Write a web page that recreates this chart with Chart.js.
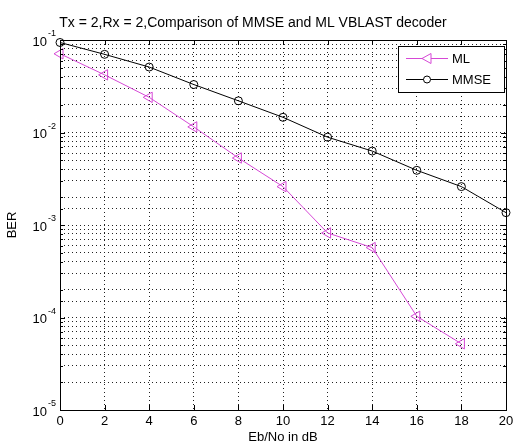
<!DOCTYPE html>
<html>
<head>
<meta charset="utf-8">
<script src="https://cdn.jsdelivr.net/npm/chart.js@4/dist/chart.umd.min.js"></script>
<style>
  html, body { margin: 0; padding: 0; background: #fff; }
  #wrap { width: 513px; height: 446px; }
</style>
</head>
<body>
<div id="wrap"><canvas id="c" width="513" height="446"></canvas></div>
<script>
// Eb/No points (dB)
const ebno = [0, 2, 4, 6, 8, 10, 12, 14, 16, 18, 20];
// BER
const berML = [0.071, 0.042, 0.024, 0.0115, 0.0053, 0.0026, 0.00082, 0.00057, 0.000103, 0.000052];
const berMMSE = [0.094, 0.070, 0.051, 0.033, 0.022, 0.0146, 0.0089, 0.0063, 0.0039, 0.0026, 0.00136];
const yTickPowers = [-1, -2, -3, -4, -5];

const FONT = 'Liberation Sans, Arial, sans-serif';
const ML_COLOR = 'rgb(214, 72, 214)';

function toPoints(ys) {
  return ys.map((y, i) => ({ x: ebno[i], y: y }));
}

function isDecade(v) {
  const p = Math.log10(v);
  return Math.abs(p - Math.round(p)) < 1e-6;
}

// axis box, inward ticks, 10^n labels and the legend, drawn like matlab does
const boxPlugin = {
  id: 'box',
  afterDraw(chart) {
    const ctx = chart.ctx;
    const a = chart.chartArea;
    const xs = chart.scales.x, ys = chart.scales.y;
    ctx.save();
    ctx.strokeStyle = '#000';
    ctx.lineWidth = 1;
    ctx.strokeRect(Math.round(a.left) + 0.5, Math.round(a.top) + 0.5,
      Math.round(a.right - a.left), Math.round(a.bottom - a.top));

    ctx.beginPath();
    xs.ticks.forEach(t => {
      const px = Math.round(xs.getPixelForValue(t.value)) + 0.5;
      ctx.moveTo(px, a.bottom); ctx.lineTo(px, a.bottom - 5);
      ctx.moveTo(px, a.top); ctx.lineTo(px, a.top + 5);
    });
    ys.ticks.forEach(t => {
      const py = Math.round(ys.getPixelForValue(t.value)) + 0.5;
      const len = isDecade(t.value) ? 5 : 3;
      ctx.moveTo(a.left, py); ctx.lineTo(a.left + len, py);
      ctx.moveTo(a.right, py); ctx.lineTo(a.right - len, py);
    });
    ctx.stroke();

    // y labels as 10 with a raised exponent
    ctx.fillStyle = '#000';
    ctx.textBaseline = 'middle';
    yTickPowers.forEach(n => {
      const py = ys.getPixelForValue(Math.pow(10, n));
      ctx.font = '13px ' + FONT;
      ctx.textAlign = 'right';
      ctx.fillText('10', 47, py + 2);
      ctx.font = '9px ' + FONT;
      ctx.textAlign = 'left';
      ctx.fillText(String(n), 48, py - 6);
    });

    // legend
    const lx = 398, ly = 46, lw = 106, lh = 46;
    ctx.fillStyle = '#fff';
    ctx.fillRect(lx, ly, lw, lh);
    ctx.strokeRect(lx + 0.5, ly + 0.5, lw, lh);
    const rows = [
      { label: 'ML', color: ML_COLOR, y: 58, tri: true },
      { label: 'MMSE', color: '#000', y: 79, tri: false }
    ];
    rows.forEach(r => {
      ctx.strokeStyle = r.color;
      ctx.beginPath();
      ctx.moveTo(406, r.y + 0.5); ctx.lineTo(448, r.y + 0.5);
      ctx.stroke();
      ctx.fillStyle = '#fff';
      ctx.beginPath();
      if (r.tri) {
        ctx.moveTo(422, r.y + 0.5); ctx.lineTo(431, r.y - 4.5); ctx.lineTo(431, r.y + 5.5); ctx.closePath();
      } else {
        ctx.arc(427, r.y + 0.5, 3.5, 0, Math.PI * 2);
      }
      ctx.fill();
      ctx.stroke();
      ctx.fillStyle = '#000';
      ctx.font = '13px ' + FONT;
      ctx.textAlign = 'left';
      ctx.textBaseline = 'middle';
      ctx.fillText(r.label, 452, r.y + 1);
    });
    ctx.restore();
  }
};

new Chart(document.getElementById('c'), {
  type: 'line',
  data: {
    datasets: [
      {
        label: 'ML',
        data: toPoints(berML),
        borderColor: ML_COLOR,
        borderWidth: 1,
        pointStyle: 'triangle',
        pointRotation: -90,
        pointRadius: 6,
        pointBorderColor: ML_COLOR,
        pointBackgroundColor: 'rgba(0,0,0,0)',
        pointBorderWidth: 1
      },
      {
        label: 'MMSE',
        data: toPoints(berMMSE),
        borderColor: '#000',
        borderWidth: 1,
        pointStyle: 'circle',
        pointRadius: 4,
        pointBorderColor: '#000',
        pointBackgroundColor: 'rgba(0,0,0,0)',
        pointBorderWidth: 1
      }
    ]
  },
  options: {
    responsive: false,
    animation: false,
    clip: false,
    layout: { padding: { left: 0, right: 7, top: 0, bottom: 0 } },
    plugins: {
      legend: { display: false },
      tooltip: { enabled: false },
      title: {
        display: true,
        text: 'Tx = 2,Rx = 2,Comparison of MMSE and ML VBLAST decoder',
        color: '#000',
        font: { family: FONT, size: 14, weight: 'normal' },
        padding: { top: 15, bottom: 8.2 }
      }
    },
    scales: {
      x: {
        type: 'linear',
        min: 0,
        max: 20,
        ticks: {
          stepSize: 2,
          color: '#000',
          padding: 4,
          font: { family: FONT, size: 13 }
        },
        grid: {
          color: '#222',
          drawTicks: false
        },
        border: { display: false, dash: [1, 3] },
        title: {
          display: true,
          text: 'Eb/No in dB',
          color: '#000',
          font: { family: FONT, size: 13 },
          padding: { top: 0, bottom: 1 }
        },
        afterFit(scale) {
          scale.height = 36;
          scale.paddingLeft = 0;
          scale.paddingRight = 0;
        }
      },
      y: {
        type: 'logarithmic',
        min: 1e-5,
        max: 1e-1,
        ticks: {
          color: '#000',
          padding: 8,
          autoSkip: false,
          font: { family: FONT, size: 12 },
          callback() { return ''; }
        },
        grid: {
          color: '#222',
          drawTicks: false
        },
        border: { display: false, dash: [1, 3] },
        title: {
          display: true,
          text: 'BER',
          color: '#000',
          font: { family: FONT, size: 13 },
          padding: { top: 5, bottom: 0 }
        },
        afterFit(scale) {
          scale.width = 60;
          scale.paddingTop = 0;
          scale.paddingBottom = 0;
        }
      }
    }
  },
  plugins: [boxPlugin]
});
</script>
</body>
</html>
